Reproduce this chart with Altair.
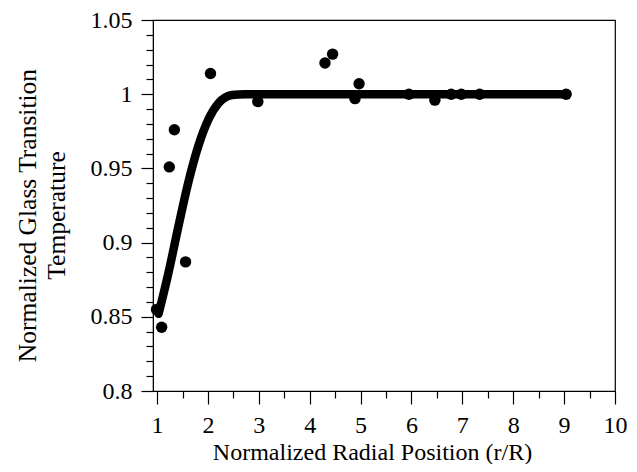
import altair as alt
import pandas as pd

# Measured points
pt_r = [0.99, 1.09, 1.24, 1.34, 1.56, 2.05, 2.98, 4.30, 4.45, 4.89, 4.97,
        5.95, 6.46, 6.78, 6.98, 7.34, 9.04]
pt_tg = [0.855, 0.843, 0.951, 0.976, 0.887, 1.014, 0.995, 1.021, 1.027, 0.997,
         1.007, 1.000, 0.996, 1.000, 1.000, 1.000, 1.000]

# Fitted curve
fit_r = [1.03, 1.22, 1.42, 1.61, 1.81, 2.01, 2.21, 2.47, 2.73, 9.05]
fit_tg = [0.852, 0.879, 0.911, 0.940, 0.965, 0.983, 0.994, 0.9995, 1.000, 1.000]

# Tick values
x_major = [1, 2, 3, 4, 5, 6, 7, 8, 9, 10]
x_minor = [1.5, 2.5, 3.5, 4.5, 5.5, 6.5, 7.5, 8.5, 9.5]
y_major = [0.8, 0.85, 0.9, 0.95, 1.0, 1.05]
y_minor = [0.81, 0.82, 0.83, 0.84, 0.86, 0.87, 0.88, 0.89, 0.91, 0.92, 0.93,
           0.94, 0.96, 0.97, 0.98, 0.99, 1.01, 1.02, 1.03, 1.04]

pts = pd.DataFrame({"r": pt_r, "tg": pt_tg})
fit = pd.DataFrame({"r": fit_r, "tg": fit_tg})

FONT = "Liberation Serif"
xscale = alt.Scale(domain=[0.92, 10], nice=False, zero=False)
yscale = alt.Scale(domain=[0.8, 1.05], nice=False, zero=False)

x_axis_major = alt.Axis(
    orient="bottom", values=x_major, tickSize=13, tickColor="black", tickWidth=1.2,
    domainColor="black", labelFont=FONT, labelFontSize=24, labelColor="black",
    labelPadding=9, labelFlush=False, grid=False,
    title="Normalized Radial Position (r/R)", titleFont=FONT, titleFontSize=24,
    titleFontWeight="normal", titleColor="black",
    titleX=219, titleY=49, titleBaseline="top", titleAlign="center",
)
y_axis_major = alt.Axis(
    orient="left", values=y_major, tickSize=12, tickColor="black", tickWidth=1.2,
    domainColor="black", labelFont=FONT, labelFontSize=24, labelColor="black",
    labelPadding=9, labelFlush=False, format="~g", grid=False,
    title=["Normalized Glass Transition", "Temperature"], titleFont=FONT,
    titleFontSize=25.5, titleFontWeight="normal", titleColor="black",
    titleLineHeight=29, titleX=-113, titleY=195, titleAngle=270,
    titleBaseline="bottom", titleAlign="center",
)
x_axis_minor = alt.Axis(
    orient="bottom", values=x_minor, tickSize=7, tickColor="black", tickWidth=1.2,
    labels=False, domain=False, grid=False, title=None,
)
y_axis_minor = alt.Axis(
    orient="left", values=y_minor, tickSize=7, tickColor="black", tickWidth=1.2,
    labels=False, domain=False, grid=False, title=None,
)

points = alt.Chart(pts).mark_circle(size=130, color="black", opacity=1).encode(
    x=alt.X("r:Q", scale=xscale, axis=x_axis_major),
    y=alt.Y("tg:Q", scale=yscale, axis=y_axis_major),
)

line = alt.Chart(fit).mark_line(
    color="black", strokeWidth=8.5, interpolate="monotone", strokeCap="round"
).encode(
    x=alt.X("r:Q", scale=xscale, axis=x_axis_minor),
    y=alt.Y("tg:Q", scale=yscale, axis=y_axis_minor),
)

chart = alt.layer(line, points).resolve_axis(
    x="independent", y="independent"
).properties(
    width=462, height=371,
    padding={"left": 145, "top": 12, "right": 14, "bottom": 73},
    autosize=alt.AutoSizeParams(type="none"),
    background="white",
).configure_view(stroke="black", strokeWidth=1.2)

chart.save("out.html", embed_options={"renderer": "svg", "actions": False})
